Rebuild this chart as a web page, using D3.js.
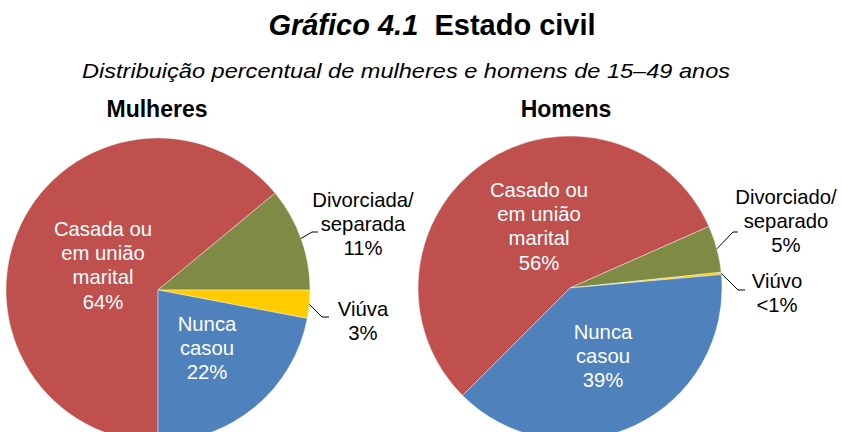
<!DOCTYPE html>
<html><head><meta charset="utf-8">
<script src="https://cdn.jsdelivr.net/npm/d3@7"></script>
<style>body{margin:0;background:#fff}svg{display:block}text{font-family:"Liberation Sans",Arial,sans-serif}</style>
</head><body><svg id="c" width="842" height="432"></svg>
<script>
const categories = ["Casado", "Divorciado", "Viuvo", "Nunca"];
const womenValues = [64, 11, 3, 22];
const menValues = [56, 5, 0.25, 39];
const womenLabels = [["Casada ou","em união","marital","64%"],["Divorciada/","separada","11%"],["Viúva","3%"],["Nunca","casou","22%"]];
const menLabels = [["Casado ou","em união","marital","56%"],["Divorciado/","separado","5%"],["Viúvo","<1%"],["Nunca","casou","39%"]];
const colors = ["#C0504D", "#7F8A45", "#FFCC00", "#4F81BD"];

const svg = d3.select("#c");
const title = svg.append("text").attr("x", 432).attr("y", 35).attr("text-anchor","middle")
  .attr("font-size", 29).attr("font-weight","bold");
title.append("tspan").attr("font-style","italic").text("Gráfico 4.1");
title.append("tspan").attr("xml:space","preserve").text("  Estado civil");
svg.append("text").attr("x", 82).attr("y", 78).attr("text-anchor","start")
  .attr("font-size", 21).attr("font-style","italic")
  .attr("textLength", 648).attr("lengthAdjust","spacingAndGlyphs")
  .text("Distribuição percentual de mulheres e homens de 15–49 anos");

const color = d3.scaleOrdinal().domain(categories).range(colors);
const R = 152;

function drawPie(cfg) {
  const g = svg.append("g").attr("transform", `translate(${cfg.cx},${cfg.cy})`);
  svg.append("text").attr("x", cfg.hx).attr("y", 117).attr("text-anchor","middle")
    .attr("font-size", 23).attr("font-weight","bold").text(cfg.head);
  const pie = d3.pie().sort(null).value(d => d.v)
    .startAngle(cfg.start).endAngle(cfg.start + 2*Math.PI);
  const data = categories.map((c,i) => ({c, v: cfg.values[i], lab: cfg.labels[i]}));
  const arcs = pie(data);
  const arc = d3.arc().innerRadius(0).outerRadius(R);
  g.selectAll("path").data(arcs).join("path").attr("d", arc)
    .attr("fill", d => color(d.data.c)).attr("stroke","#fff").attr("stroke-width",0.4);
  arcs.forEach((a,i) => {
    const L = cfg.labelPos[i];
    const t = svg.append("text").attr("text-anchor","middle").attr("font-size",20.3)
      .attr("fill", L.white ? "#fff" : "#000");
    a.data.lab.forEach((s,j) => {
      t.append("tspan").attr("x", L.x).attr("y", L.y + j*24.2).text(s);
    });
    if (L.leader) {
      const mid = (a.startAngle + a.endAngle)/2;
      const p0 = [cfg.cx + R*Math.sin(mid), cfg.cy - R*Math.cos(mid)];
      svg.append("polyline").attr("fill","none").attr("stroke","#000").attr("stroke-width",1)
        .attr("points", [p0, L.leader[0], L.leader[1]].map(p => p.join(",")).join(" "));
    }
  });
}

drawPie({cx:158, cy:290, start:Math.PI, head:"Mulheres", hx:157, values:womenValues, labels:womenLabels,
  labelPos:[
    {x:103, y:236, white:true},
    {x:363, y:207, leader:[[312,232],[318,232]]},
    {x:363, y:316, leader:[[322,317],[329,317]]},
    {x:207, y:331, white:true}
  ]});
drawPie({cx:570, cy:288, start:Math.PI*1.25, head:"Homens", hx:566, values:menValues, labels:menLabels,
  labelPos:[
    {x:539, y:197, white:true},
    {x:786, y:204, leader:[[733,232],[738,232]]},
    {x:777, y:288, leader:[[738,290],[745,290]]},
    {x:603, y:339, white:true}
  ]});
</script></body></html>
